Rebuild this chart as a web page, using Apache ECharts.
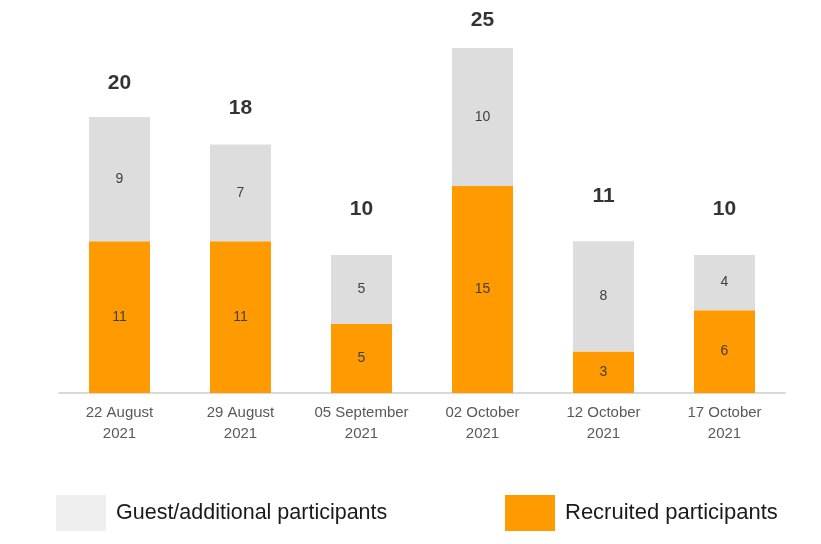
<!DOCTYPE html>
<html>
<head>
<meta charset="utf-8">
<script src="https://cdn.jsdelivr.net/npm/echarts@6/dist/echarts.min.js"></script>
<style>
  html, body { margin: 0; padding: 0; background: #fff; }
  #chart { width: 821px; height: 544px; }
</style>
</head>
<body>
<div id="chart"></div>
<script>
// data
var categories = ["22 August\n2021", "29 August\n2021", "05 September\n2021", "02 October\n2021", "12 October\n2021", "17 October\n2021"];
var recruited = [11, 11, 5, 15, 3, 6];
var guests = [9, 7, 5, 10, 8, 4];
var totals = [20, 18, 10, 25, 11, 10];

var chart = echarts.init(document.getElementById("chart"));
chart.setOption({
  animation: false,
  textStyle: { fontFamily: "Liberation Sans, Arial, sans-serif" },
  grid: { left: 59, right: 36, top: 48, bottom: 151 },
  legend: [
    {
      left: 56, top: 495, padding: 0,
      itemWidth: 50, itemHeight: 36, itemGap: 10,
      textStyle: { fontSize: 21.5, color: "#1a1a1a", padding: [0, 0, 0, 5] },
      data: [{ name: "Guest/additional participants", icon: "rect", itemStyle: { color: "#efefef" } }]
    },
    {
      left: 505, top: 495, padding: 0,
      itemWidth: 50, itemHeight: 36, itemGap: 10,
      textStyle: { fontSize: 22, color: "#1a1a1a", padding: [0, 0, 0, 5] },
      data: [{ name: "Recruited participants", icon: "rect" }]
    }
  ],
  xAxis: {
    type: "category",
    data: categories,
    axisLine: { lineStyle: { color: "#d9d9d9", width: 2 } },
    axisTick: { show: false },
    axisLabel: { interval: 0, color: "#595959", fontSize: 15, lineHeight: 21, margin: 9 }
  },
  yAxis: [
    { type: "value", min: 0, max: 25, show: false },
    // the total labels in the picture sit on their own, flatter scale
    { type: "value", min: -4.65, max: 22.8, show: false }
  ],
  series: [
    {
      name: "Recruited participants",
      type: "bar",
      stack: "total",
      barWidth: 61,
      data: recruited,
      itemStyle: { color: "#ff9a00" },
      label: { show: true, position: "inside", color: "#404040", fontSize: 14 }
    },
    {
      name: "Guest/additional participants",
      type: "bar",
      stack: "total",
      barWidth: 61,
      data: guests,
      itemStyle: { color: "#dedddd" },
      label: { show: true, position: "inside", color: "#404040", fontSize: 14 }
    },
    {
      name: "Total",
      type: "scatter",
      yAxisIndex: 1,
      clip: false,
      data: totals,
      symbolSize: 0,
      silent: true,
      label: {
        show: true,
        position: "inside",
        color: "#000",
        fontSize: 21,
        fontWeight: "bold"
      }
    }
  ]
});
window.addEventListener("resize", function () {
  chart.resize();
});
</script>
</body>
</html>
